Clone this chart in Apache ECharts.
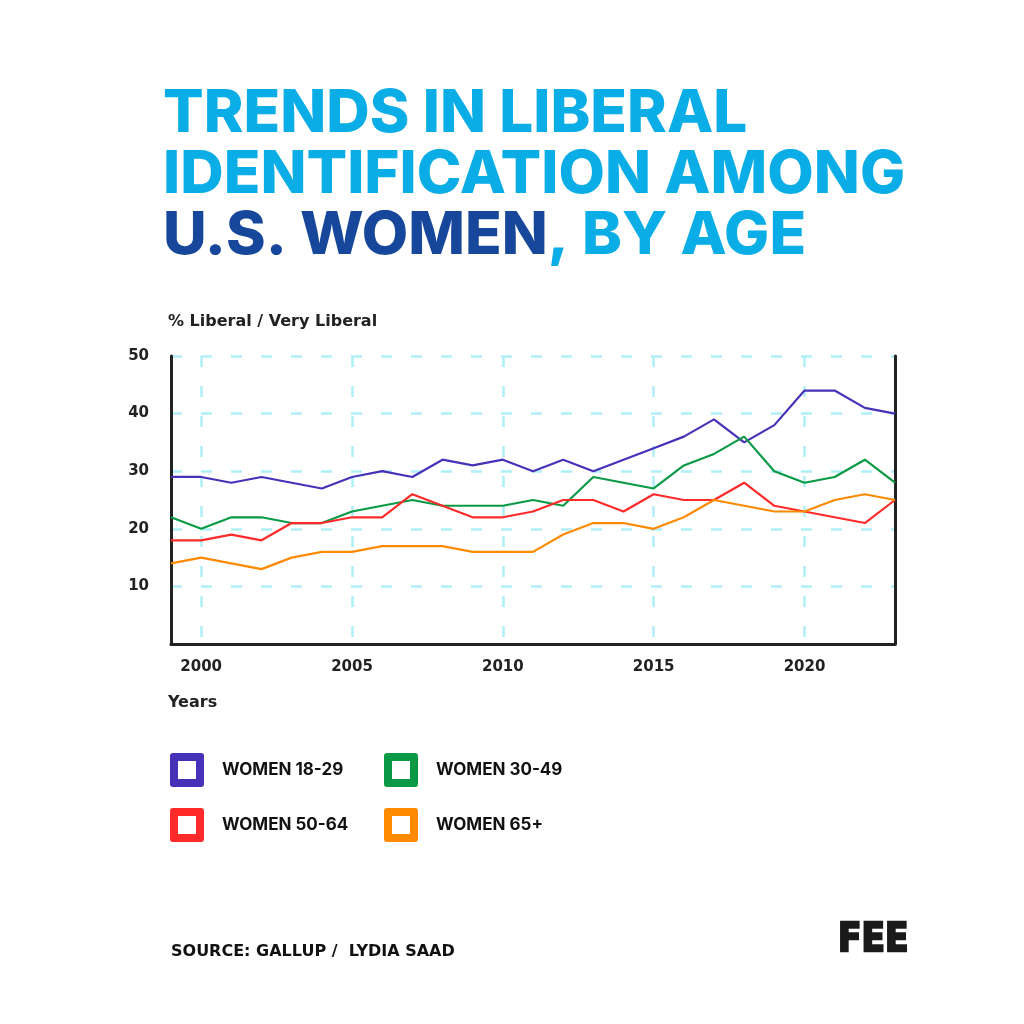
<!DOCTYPE html>
<html>
<head>
<meta charset="utf-8">
<script src="https://cdn.jsdelivr.net/npm/echarts@6/dist/echarts.min.js"></script>
<style>
html,body{margin:0;padding:0;background:#fff;}
#chart{width:1024px;height:1024px;}
</style>
</head>
<body>
<div id="chart"></div>
<script>
const years = ['1999','2000','2001','2002','2003','2004','2005','2006','2007','2008','2009','2010','2011','2012','2013','2014','2015','2016','2017','2018','2019','2020','2021','2022','2023'];
const women18_29 = [29,29,28,29,28,27,29,30,29,32,31,32,30,32,30,32,34,36,39,35,38,44,44,41,40];
const women30_49 = [22,20,22,22,21,21,23,24,25,24,24,24,25,24,29,28,27,31,33,36,30,28,29,32,28];
const women50_64 = [18,18,19,18,21,21,22,22,26,24,22,22,23,25,25,23,26,25,25,28,24,23,22,21,25];
const women65 = [14,15,14,13,15,16,16,17,17,17,16,16,16,19,21,21,20,22,25,24,23,23,25,26,25];
const seriesNames = ['WOMEN 18-29','WOMEN 30-49','WOMEN 50-64','WOMEN 65+'];
const colors = ['#4632b8','#0a9a46','#ff2a2a','#ff8a00'];

const FONT = 'Inter';
const SMALL = 'DejaVu Sans';
const ringIcon = 'path://M3,0 H31 Q34,0 34,3 V31 Q34,34 31,34 H3 Q0,34 0,31 V3 Q0,0 3,0 Z M8,8 V26 H26 V8 Z';
const gridColor = '#b0eef8';

const chart = echarts.init(document.getElementById('chart'), null, {renderer:'canvas'});
function legendAt(name, left, top){
  return {
    orient:'horizontal', left:left, top:top, icon: ringIcon, itemWidth:34, itemHeight:34,
    itemStyle:{borderWidth:0},
    textStyle:{fontFamily:FONT, fontWeight:'bold', fontSize:17, color:'#111', padding:[0,0,0,13]},
    selectedMode:false, data:[name]
  };
}
const option = {
  backgroundColor:'#fff',
  animation:false,
  color: colors,
  legend:[
    legendAt(seriesNames[0], 165, 748),
    legendAt(seriesNames[1], 379, 748),
    legendAt(seriesNames[2], 165, 803),
    legendAt(seriesNames[3], 379, 803)
  ],
  grid:{left:171, right:129, top:356, bottom:380, containLabel:false},
  xAxis:{
    type:'category', data:years, boundaryGap:false,
    axisLine:{show:true, lineStyle:{color:'#222', width:3}},
    axisTick:{show:false},
    axisLabel:{
      interval:(i,v)=>Number(v)%5===0,
      margin:16, fontFamily:SMALL, fontWeight:'bold', fontSize:15, color:'#222'
    },
    splitLine:{show:true, interval:(i,v)=>Number(v)%5===0, lineStyle:{color:gridColor, width:2.5, type:[11,19]}}
  },
  yAxis:[{
    type:'value', min:0, max:50, interval:10,
    axisLine:{show:true, lineStyle:{color:'#222', width:3}},
    axisTick:{show:false},
    axisLabel:{margin:22, fontFamily:SMALL, fontWeight:'bold', fontSize:15, color:'#222',
      formatter:v=> v===0 ? '' : String(v)},
    splitLine:{show:true, lineStyle:{color:gridColor, width:2.5, type:[11,19]}}
  },{
    type:'value', min:0, max:50, interval:10, position:'right',
    axisLine:{show:true, lineStyle:{color:'#222', width:3}},
    axisTick:{show:false}, axisLabel:{show:false}, splitLine:{show:false}
  }],
  series:[
    {name:seriesNames[0], type:'line', data:women18_29, showSymbol:false, lineStyle:{width:2.2}},
    {name:seriesNames[1], type:'line', data:women30_49, showSymbol:false, lineStyle:{width:2.2}},
    {name:seriesNames[2], type:'line', data:women50_64, showSymbol:false, lineStyle:{width:2.2}},
    {name:seriesNames[3], type:'line', data:women65, showSymbol:false, lineStyle:{width:2.2}}
  ],
  graphic:[
    {type:'text', x:163, y:84, scaleX:1.02,
      style:{
        text:'{a|TRENDS IN LIBERAL}\n{a|IDENTIFICATION AMONG}\n{b|U.S. WOMEN}{a|, BY AGE}',
        rich:{
          a:{fontFamily:FONT, fontWeight:800, fontSize:59, lineHeight:61, fill:'#0aade6'},
          b:{fontFamily:FONT, fontWeight:800, fontSize:59, lineHeight:61, fill:'#17479a'}
        }
      }},
    {type:'text', left:168, top:314, style:{text:'% Liberal / Very Liberal', fontFamily:SMALL, fontWeight:'bold', fontSize:16, fill:'#222'}},
    {type:'text', left:168, top:695, style:{text:'Years', fontFamily:SMALL, fontWeight:'bold', fontSize:16, fill:'#222'}},
    {type:'text', left:171, top:944, style:{text:'SOURCE: GALLUP /  LYDIA SAAD', fontFamily:SMALL, fontWeight:'bold', fontSize:16, fill:'#111'}},
    {type:'text', x:838, y:921, scaleX:0.88, style:{text:'FEE', fontFamily:SMALL, fontWeight:'bold', fontSize:39, fill:'#1a1a1a', stroke:'#1a1a1a', lineWidth:2.5}}
  ]
};
chart.setOption(option);
</script>
</body>
</html>
